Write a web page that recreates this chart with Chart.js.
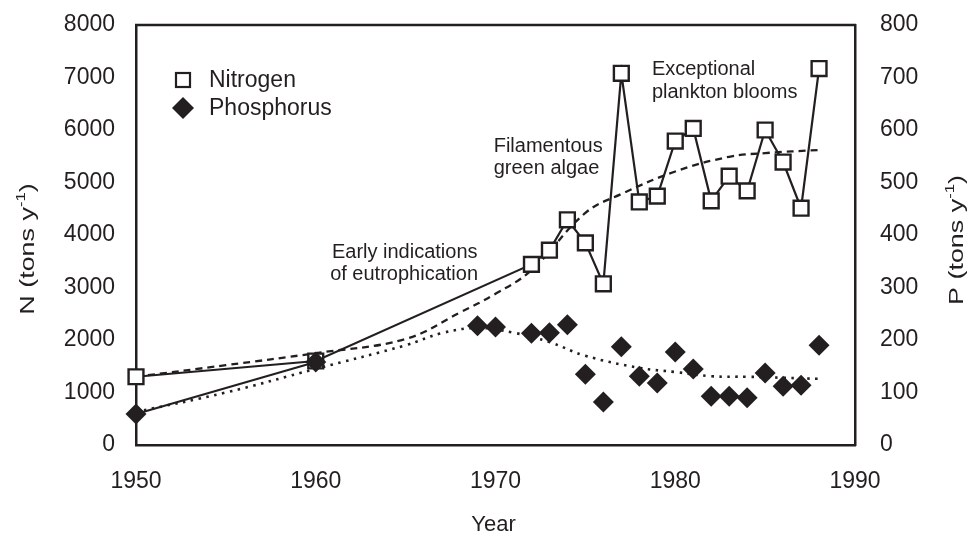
<!DOCTYPE html>
<html>
<head>
<meta charset="utf-8">
<script src="https://cdn.jsdelivr.net/npm/chart.js@4.4.1/dist/chart.umd.min.js"></script>
<style>
  body { margin: 0; background: #fff; }
  #wrap { width: 971px; height: 535px; position: relative; }
</style>
</head>
<body>
<div id="wrap"><canvas id="chart"></canvas></div>
<script>
var INK = "#231f20";
var FONT = "Arial, 'Liberation Sans', sans-serif";

// nitrogen load (tons/y), left axis
var nYears = [1950, 1960, 1972, 1973, 1974, 1975, 1976, 1977, 1978, 1979, 1980, 1981, 1982, 1983, 1984, 1985, 1986, 1987, 1988];
var nitrogen = [1300, 1600, 3440, 3710, 4290, 3850, 3070, 7080, 4630, 4740, 5790, 6030, 4650, 5120, 4840, 6000, 5390, 4510, 7170];

// phosphorus load (tons/y), right axis
var pYears = [1950, 1960, 1969, 1970, 1972, 1973, 1974, 1975, 1976, 1977, 1978, 1979, 1980, 1981, 1982, 1983, 1984, 1985, 1986, 1987, 1988];
var phosphorus = [59, 158, 227, 225, 213, 214, 229, 135, 82, 187, 131, 118, 177, 145, 93, 93, 90, 137, 112, 114, 190];

// fitted trends
var nTrendYears = [1950, 1955, 1960, 1965, 1968, 1970, 1972, 1975, 1977, 1980, 1983, 1985, 1988];
var nTrend = [1300, 1520, 1750, 2020, 2520, 2880, 3330, 4420, 4780, 5210, 5490, 5560, 5620];
var pTrendYears = [1950, 1955, 1960, 1965, 1967, 1969, 1971, 1973, 1975, 1978, 1980, 1982, 1984, 1986, 1988];
var pTrend = [63, 100, 145, 190, 213, 223, 214, 196, 170, 147, 139, 131, 130, 128, 126];

var legendLabels = ["Nitrogen", "Phosphorus"];

// annotation lines: text, year and N value of the baseline start
var noteText = ["Early indications", "of eutrophication", "Filamentous", "green algae", "Exceptional", "plankton blooms"];
var noteYear = [1960.9, 1960.8, 1969.9, 1969.9, 1978.7, 1978.7];
var noteN = [3560, 3140, 5580, 5160, 7050, 6610];

function pts(xs, ys) {
  return xs.map(function (x, i) { return { x: x, y: ys[i] }; });
}

function supText(ctx, x, y, base, sup, tail, size) {
  // base + raised "-1" + tail, centred on x in the current frame
  var small = Math.round(size * 0.62);
  ctx.font = size + "px " + FONT;
  var w1 = ctx.measureText(base).width;
  var w3 = ctx.measureText(tail).width;
  ctx.font = small + "px " + FONT;
  var w2 = ctx.measureText(sup).width;
  var start = x - (w1 + w2 + w3) / 2;
  ctx.font = size + "px " + FONT;
  ctx.fillText(base, start, y);
  ctx.font = small + "px " + FONT;
  ctx.fillText(sup, start + w1, y - size * 0.42);
  ctx.font = size + "px " + FONT;
  ctx.fillText(tail, start + w1 + w2, y);
}

var extras = {
  id: "extras",
  afterDraw: function (chart) {
    var ctx = chart.ctx;
    var a = chart.chartArea;
    var xs = chart.scales.x, ys = chart.scales.y;
    ctx.save();
    // top edge of the frame
    ctx.strokeStyle = INK;
    ctx.lineWidth = 2.5;
    ctx.beginPath();
    ctx.moveTo(a.left - 1, a.top);
    ctx.lineTo(a.right + 1, a.top);
    ctx.stroke();

    ctx.fillStyle = INK;
    ctx.textBaseline = "alphabetic";
    ctx.textAlign = "left";

    // annotations
    ctx.font = "20px " + FONT;
    for (var i = 0; i < noteText.length; i++) {
      ctx.fillText(noteText[i], xs.getPixelForValue(noteYear[i]), ys.getPixelForValue(noteN[i]));
    }

    // legend
    var lx = a.left + 47;
    ctx.lineWidth = 2.2;
    ctx.fillStyle = "#fff";
    ctx.fillRect(lx - 7, 73, 14, 14);
    ctx.strokeRect(lx - 7, 73, 14, 14);
    ctx.fillStyle = INK;
    ctx.beginPath();
    ctx.moveTo(lx - 11, 108);
    ctx.lineTo(lx, 97);
    ctx.lineTo(lx + 11, 108);
    ctx.lineTo(lx, 119);
    ctx.closePath();
    ctx.fill();
    ctx.font = "23px " + FONT;
    ctx.fillText(legendLabels[0], lx + 26, 87);
    ctx.fillText(legendLabels[1], lx + 26, 115);

    // axis titles
    ctx.font = "22px " + FONT;
    var yw = ctx.measureText("Year").width;
    ctx.fillText("Year", (a.left + a.right) / 2 - 2 - yw / 2, 531);

    ctx.save();
    ctx.translate(34, 249);
    ctx.rotate(-Math.PI / 2);
    ctx.scale(1.28, 1);
    supText(ctx, 0, 0, "N (tons y", "-1", ")", 21);
    ctx.restore();

    ctx.save();
    ctx.translate(963, 240);
    ctx.rotate(-Math.PI / 2);
    ctx.scale(1.28, 1);
    supText(ctx, 0, 0, "P (tons y", "-1", ")", 21);
    ctx.restore();

    ctx.restore();
  }
};

var tickFont = { family: FONT, size: 23 };

new Chart(document.getElementById("chart"), {
  type: "scatter",
  data: {
    datasets: [
      {
        label: "Nitrogen",
        data: pts(nYears, nitrogen),
        yAxisID: "y",
        showLine: true,
        clip: false,
        borderColor: INK,
        borderWidth: 2.2,
        pointStyle: "rect",
        pointRadius: 10.5,
        pointBackgroundColor: "#fff",
        pointBorderColor: INK,
        pointBorderWidth: 2.4,
        order: 1
      },
      {
        label: "Phosphorus",
        data: pts(pYears, phosphorus),
        yAxisID: "y2",
        showLine: false,
        clip: false,
        pointStyle: "rectRot",
        pointRadius: 10.5,
        pointBackgroundColor: INK,
        pointBorderColor: INK,
        pointBorderWidth: 0,
        order: 0
      },
      {
        label: "P 1950-1960",
        data: pts(pYears.slice(0, 2), phosphorus.slice(0, 2)),
        yAxisID: "y2",
        showLine: true,
        clip: false,
        borderColor: INK,
        borderWidth: 2.2,
        pointRadius: 0,
        order: 2
      },
      {
        label: "N trend",
        data: pts(nTrendYears, nTrend),
        yAxisID: "y",
        showLine: true,
        borderColor: INK,
        borderWidth: 2.3,
        borderDash: [7, 5],
        tension: 0.4,
        pointRadius: 0,
        order: 3
      },
      {
        label: "P trend",
        data: pts(pTrendYears, pTrend),
        yAxisID: "y2",
        showLine: true,
        borderColor: INK,
        borderWidth: 2.6,
        borderDash: [2.5, 5.5],
        tension: 0.4,
        pointRadius: 0,
        order: 4
      }
    ]
  },
  options: {
    responsive: true,
    maintainAspectRatio: false,
    animation: false,
    layout: { padding: { top: 25, left: 0, right: 0, bottom: 0 } },
    plugins: {
      legend: { display: false },
      tooltip: { enabled: false }
    },
    scales: {
      x: {
        type: "linear",
        min: 1950,
        max: 1990,
        ticks: {
          stepSize: 10,
          color: INK,
          font: tickFont,
          padding: 23,
          maxRotation: 0,
          callback: function (v) { return String(v); }
        },
        grid: { display: false, drawTicks: false },
        border: { display: true, color: INK, width: 2.5 },
        afterFit: function (s) { s.height = 90; }
      },
      y: {
        position: "left",
        min: 0,
        max: 8000,
        ticks: {
          stepSize: 1000,
          color: INK,
          font: tickFont,
          padding: 21,
          callback: function (v) { return String(v); }
        },
        grid: { display: false, drawTicks: false },
        border: { display: true, color: INK, width: 2.5 },
        afterFit: function (s) { s.width = 136; s.paddingTop = 12; }
      },
      y2: {
        position: "right",
        min: 0,
        max: 800,
        ticks: {
          stepSize: 100,
          color: INK,
          font: tickFont,
          padding: 25,
          callback: function (v) { return String(v); }
        },
        grid: { display: false, drawTicks: false },
        border: { display: true, color: INK, width: 2.5 },
        afterFit: function (s) { s.width = 116; s.paddingTop = 12; }
      }
    }
  },
  plugins: [extras]
});
</script>
</body>
</html>
